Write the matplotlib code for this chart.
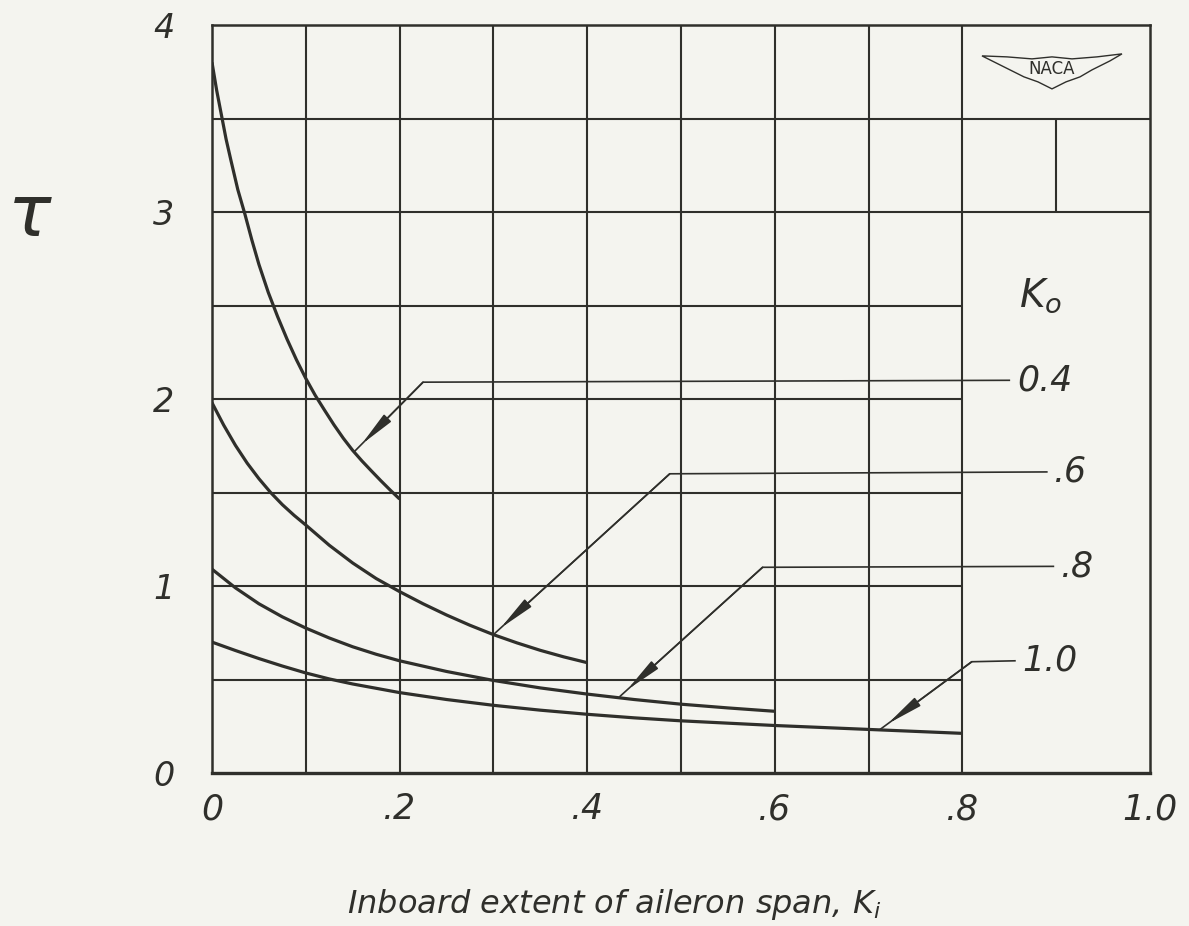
import numpy as np
import matplotlib.pyplot as plt

plt.rcParams.update({
    'font.family': 'DejaVu Sans',
    'font.style': 'oblique',
    'mathtext.fontset': 'dejavusans',
})

INK = '#2f2f2b'
PAPER = '#f4f4ef'

# tau vs inboard extent Ki, one curve per outboard extent Ko
ki_04 = [0, 0.005, 0.01, 0.015, 0.02, 0.0275, 0.035, 0.0425, 0.05, 0.06, 0.07, 0.08,
         0.09, 0.1, 0.11, 0.12, 0.13, 0.14, 0.15, 0.16, 0.17, 0.18, 0.19, 0.2]
tau_04 = [3.80, 3.65, 3.52, 3.39, 3.28, 3.12, 2.99, 2.85, 2.72, 2.57, 2.44, 2.32,
          2.21, 2.11, 2.02, 1.94, 1.862, 1.79, 1.725, 1.668, 1.615, 1.563, 1.513, 1.465]

ki_06 = [0, 0.0125, 0.025, 0.0375, 0.05, 0.0625, 0.075, 0.0875, 0.1, 0.125, 0.15,
         0.175, 0.2, 0.225, 0.25, 0.275, 0.3, 0.325, 0.35, 0.375, 0.4]
tau_06 = [1.98, 1.86, 1.752, 1.657, 1.574, 1.50, 1.435, 1.378, 1.326, 1.218, 1.123,
          1.04, 0.97, 0.905, 0.845, 0.79, 0.74, 0.696, 0.656, 0.621, 0.59]

ki_08 = [0, 0.025, 0.05, 0.075, 0.1, 0.125, 0.15, 0.175, 0.2, 0.25, 0.3, 0.35,
         0.4, 0.45, 0.5, 0.55, 0.6]
tau_08 = [1.09, 0.99, 0.905, 0.835, 0.775, 0.722, 0.675, 0.635, 0.60, 0.543, 0.495, 0.455,
          0.422, 0.393, 0.368, 0.348, 0.33]

ki_10 = [0, 0.025, 0.05, 0.075, 0.1, 0.125, 0.15, 0.2, 0.25, 0.3, 0.35, 0.4,
         0.45, 0.5, 0.6, 0.7, 0.8]
tau_10 = [0.70, 0.655, 0.612, 0.572, 0.535, 0.503, 0.476, 0.43, 0.393, 0.362, 0.336, 0.314,
          0.295, 0.279, 0.254, 0.233, 0.212]

curves = [(ki_04, tau_04), (ki_06, tau_06), (ki_08, tau_08), (ki_10, tau_10)]

# leader lines: label text, end of horizontal, bend point, tip on curve
ko_labels = ['0.4', '.6', '.8', '1.0']
lead_end_x = [0.85, 0.89, 0.897, 0.856]
lead_y = [2.10, 1.61, 1.105, 0.60]
bend_x = [0.225, 0.488, 0.587, 0.81]
bend_y = [2.09, 1.60, 1.10, 0.595]
tip_x = [0.152, 0.30, 0.435, 0.712]
tip_y = [1.72, 0.74, 0.41, 0.232]

xticks = [0, 0.2, 0.4, 0.6, 0.8, 1.0]
xticklabels = ['0', '.2', '.4', '.6', '.8', '1.0']
yticks = [0, 1, 2, 3, 4]
yticklabels = ['0', '1', '2', '3', '4']

# grid layout of the drawing
v_full = [0.1, 0.2, 0.3, 0.4, 0.5, 0.6, 0.7, 0.8]
h_short = [0.5, 1.0, 1.5, 2.0, 2.5]
h_long = [3.0, 3.5]

fig = plt.figure(figsize=(11.89, 9.26), dpi=100, facecolor=PAPER)
ax = fig.add_axes([212/1189, 153/926, 938/1189, 748/926])
ax.set_facecolor(PAPER)
ax.set_xlim(0, 1.0)
ax.set_ylim(0, 4)

ax.vlines(v_full, 0, 4, color=INK, lw=1.5)
ax.vlines([0.9], 3.0, 3.5, color=INK, lw=1.5)
ax.hlines(h_short, 0, 0.8, color=INK, lw=1.5)
ax.hlines(h_long, 0, 1.0, color=INK, lw=1.5)

for s in ax.spines.values():
    s.set_color(INK)
    s.set_linewidth(1.8)
ax.spines['bottom'].set_linewidth(2.4)

for x, y in curves:
    ax.plot(x, y, color=INK, lw=2.3, solid_capstyle='butt', solid_joinstyle='round')

for i, lab in enumerate(ko_labels):
    ax.plot([lead_end_x[i], bend_x[i], tip_x[i]],
            [lead_y[i], bend_y[i], tip_y[i]], color=INK, lw=1.2)
    ax.annotate('', xy=(tip_x[i], tip_y[i]), xytext=(bend_x[i], bend_y[i]),
                arrowprops=dict(arrowstyle='-|>,head_length=1.0,head_width=0.14',
                                color=INK, lw=1.2, shrinkA=0, shrinkB=7,
                                mutation_scale=22))
    ax.text(lead_end_x[i] + 0.008, lead_y[i], lab, fontsize=25,
            ha='left', va='center', color=INK)

ax.text(0.86, 2.55, r'$K_o$', fontsize=28, ha='left', va='center', color=INK)

# NACA wing badge
cx, cy = 0.8955, 0.94
wing_dx = [-70, -45, -20, 0, 20, 45, 70, 58, 40, 28, 14, 0, -14, -28, -40, -58, -70]
wing_dy = [14, 13, 11, 13, 11, 13, 16, 9, 0, -7, -12, -19, -12, -7, -1, 8, 14]
wx = [cx + d / 938 for d in wing_dx]
wy = [cy + d / 748 for d in wing_dy]
ax.fill(wx, wy, transform=ax.transAxes, facecolor=PAPER, edgecolor=INK, lw=1.0)
ax.text(cx, cy + 0.001, 'NACA', transform=ax.transAxes, fontsize=12,
        fontstyle='normal', ha='center', va='center', color=INK)

ax.set_xticks(xticks, xticklabels, fontsize=25, color=INK)
ax.set_yticks(yticks, yticklabels, fontsize=24, color=INK)
ax.tick_params(axis='x', length=0, pad=14)
ax.tick_params(axis='y', length=0, pad=27)

fig.text(30/1189, 1 - 216/926, r'$\tau$', fontsize=52, ha='center', va='center',
         color=INK)
fig.text(614/1189, 1 - 905/926, r'Inboard extent of aileron span, $K_i$',
         fontsize=23, ha='center', va='center', color=INK)

fig.savefig('out.png', dpi=100, facecolor=PAPER)
